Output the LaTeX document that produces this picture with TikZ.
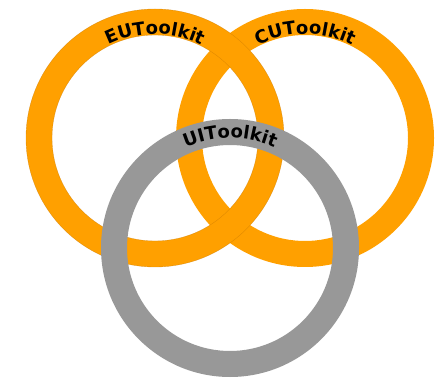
\documentclass[tikz,border=0pt]{standalone}
\usepackage{fontspec}
\setmainfont{DejaVu Sans}
\usetikzlibrary{decorations.text}
\definecolor{ringorange}{RGB}{255,160,0}
\definecolor{ringgray}{RGB}{152,152,152}
\definecolor{ringedge}{RGB}{200,120,0}
\tikzset{
  ring/.style={fill=#1, even odd rule},
  ringlabel/.style={decorate, decoration={text along path, text align=center,
     text={|\fontsize{18}{18}\selectfont\bfseries|#1}}}
}
\begin{document}
\begin{tikzpicture}[x=1pt,y=1pt]
\useasboundingbox (0,0) rectangle (436,380);
\fill[white] (0,0) rectangle (436,380);
\coordinate (eu) at (155,242);
\coordinate (cu) at (305,242);
\coordinate (ui) at (230,132);
% right ring (below)
\fill[ring=ringorange] (cu) circle[radius=129] (cu) circle[radius=103];
% left ring (above right ring)
\fill[ring=ringorange] (eu) circle[radius=129] (eu) circle[radius=103];
\draw[ringedge, line width=0.35pt, opacity=0.6] (eu) circle[radius=129] (eu) circle[radius=103];
% gray ring (on top)
\fill[ring=ringgray] (ui) circle[radius=129] (ui) circle[radius=103];
% labels
\path[ringlabel=EUToolkit] ([shift={(150:104)}]eu) arc[start angle=150, end angle=30, radius=104];
\path[ringlabel=CUToolkit] ([shift={(150:104)}]cu) arc[start angle=150, end angle=30, radius=104];
\path[ringlabel=UIToolkit] ([shift={(150:110)}]ui) arc[start angle=150, end angle=30, radius=110];
\end{tikzpicture}
\end{document}
